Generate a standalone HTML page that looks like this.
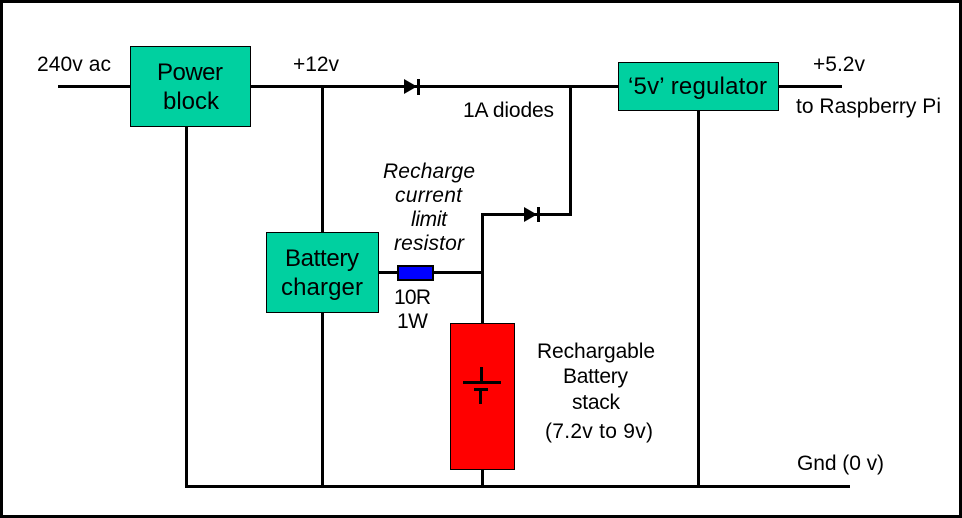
<!DOCTYPE html>
<html><head><meta charset="utf-8">
<style>
html,body{margin:0;padding:0;background:#fff;width:962px;height:518px;overflow:hidden}
svg{display:block}
text{font-family:"Liberation Sans",Arial,sans-serif;fill:#000}
.b{font-size:24px}
.l{font-size:21px}
.i{font-size:21px;font-style:italic}
</style></head><body>
<svg width="962" height="518" viewBox="0 0 962 518" xmlns="http://www.w3.org/2000/svg" shape-rendering="crispEdges">
<rect width="962" height="518" fill="#000"/>
<rect x="3" y="3" width="956" height="512" fill="#fff"/>
<g fill="#000">
<rect x="58" y="85" width="72" height="3"/>
<rect x="251" y="85" width="367" height="3"/>
<rect x="779" y="85" width="63" height="3"/>
<rect x="185" y="127" width="3" height="360"/>
<rect x="321" y="86" width="3" height="146"/>
<rect x="321" y="313" width="3" height="173"/>
<rect x="569" y="86" width="3" height="130"/>
<rect x="481" y="213" width="91" height="3"/>
<rect x="481" y="213" width="3" height="110"/>
<rect x="379" y="271" width="104" height="3"/>
<rect x="481" y="470" width="3" height="16"/>
<rect x="697" y="111" width="3" height="375"/>
<rect x="185" y="485" width="665" height="3"/>
<polygon points="404,79 417,86.5 404,94" shape-rendering="auto"/>
<rect x="417" y="79" width="3" height="16"/>
<polygon points="524,207 537,214.5 524,222" shape-rendering="auto"/>
<rect x="537" y="207" width="3" height="15"/>
</g>
<rect x="130.5" y="46.5" width="120" height="80" fill="#00d0a0" stroke="#000"/>
<rect x="618.5" y="62.5" width="160" height="48" fill="#00d0a0" stroke="#000"/>
<rect x="266.5" y="232.5" width="112" height="80" fill="#00d0a0" stroke="#000"/>
<rect x="398" y="266" width="35" height="14" fill="#0000ff" stroke="#000" stroke-width="2"/>
<rect x="450.5" y="323.5" width="64" height="146" fill="#ff0000" stroke="#000"/>
<g fill="#000">
<rect x="480" y="367" width="3" height="15"/>
<rect x="463" y="381" width="38" height="3"/>
<rect x="474" y="388" width="14" height="3"/>
<rect x="479" y="388" width="3" height="16"/>
</g>
<g shape-rendering="auto">
<text class="b" x="157" y="80" textLength="66">Power</text>
<text class="b" x="163" y="109" textLength="56">block</text>
<text class="b" x="628" y="94" textLength="139">‘5v’ regulator</text>
<text class="b" x="285" y="266" textLength="74">Battery</text>
<text class="b" x="281" y="295" textLength="82">charger</text>
<text class="l" x="37" y="71" textLength="74">240v ac</text>
<text class="l" x="293" y="71" textLength="46">+12v</text>
<text class="l" x="813" y="71" textLength="52">+5.2v</text>
<text class="l" x="796" y="113" textLength="145">to Raspberry Pi</text>
<text class="l" x="463" y="117" textLength="91">1A diodes</text>
<text class="i" x="383" y="178" textLength="92">Recharge</text>
<text class="i" x="395" y="202" textLength="67">current</text>
<text class="i" x="411" y="226" textLength="36">limit</text>
<text class="i" x="394" y="250" textLength="70">resistor</text>
<text class="l" x="394" y="304" textLength="37">10R</text>
<text class="l" x="397" y="328" textLength="31">1W</text>
<text class="l" x="537" y="358" textLength="118">Rechargable</text>
<text class="l" x="563" y="383" textLength="65">Battery</text>
<text class="l" x="572" y="409" textLength="48">stack</text>
<text class="l" x="545" y="438" textLength="108">(7.2v to 9v)</text>
<text class="l" x="797" y="470" textLength="87">Gnd (0 v)</text>
</g>
</svg>
</body></html>
